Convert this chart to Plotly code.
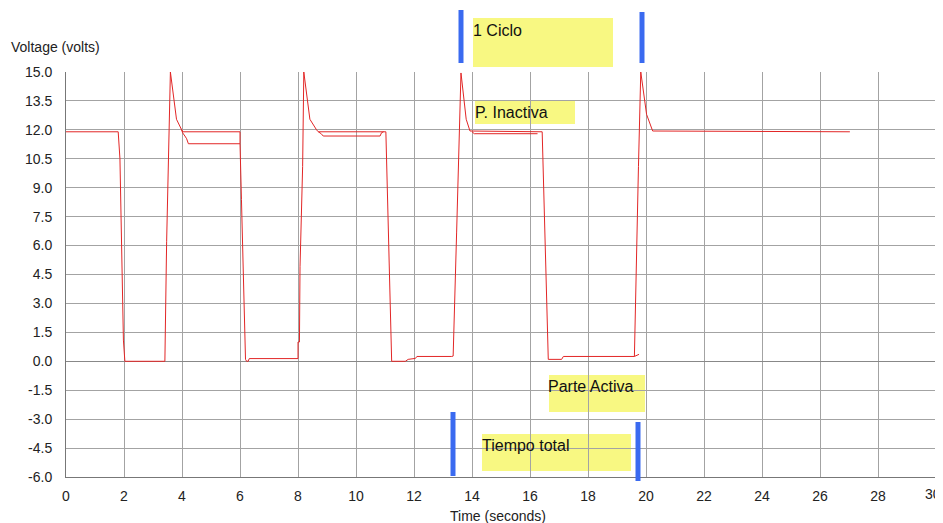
import plotly.graph_objects as go

# ---- data (time in seconds, voltage in volts) ----
time_main = [0.00, 1.80, 1.86, 1.92, 1.98, 2.03, 3.41, 3.47, 3.56, 3.60, 3.81, 3.98, 4.02,
             6.00, 6.00, 6.05, 6.11, 6.19, 6.23, 6.28, 6.32, 8.00, 8.00, 8.05, 8.07, 8.16,
             8.20, 8.41, 8.64, 8.70, 11.03, 11.11, 11.23, 11.70, 11.80, 12.05, 12.10, 13.30,
             13.35, 13.47, 13.58, 13.62, 13.80, 13.93, 16.42, 16.52, 16.63, 17.09, 17.15,
             19.60, 19.66, 19.74, 19.82, 20.02, 20.23, 27.03]
volt_main = [11.90, 11.90, 10.50, 5.80, 1.10, 0.00, 0.00, 6.20, 12.30, 15.00, 12.55, 12.05, 11.90,
             11.90, 11.30, 8.40, 4.10, 0.10, 0.00, 0.00, 0.14, 0.14, 1.00, 1.00, 4.90, 10.10,
             15.00, 12.55, 12.00, 11.90, 11.90, 6.70, 0.00, 0.00, 0.10, 0.15, 0.25, 0.25,
             0.27, 6.70, 12.50, 14.95, 12.55, 11.94, 11.90, 5.80, 0.10, 0.10, 0.25,
             0.25, 4.90, 10.10, 15.00, 12.80, 11.94, 11.90]

# secondary (overlaid) branches, segments separated by None
time_branch = [3.98, 4.02, 4.10, 4.16, 4.22, 6.00, None,
               8.70, 8.80, 8.87, 10.83, 10.88, 10.95, None,
               14.00, 14.08, 16.26, None,
               19.60, 19.72, 19.76]
volt_branch = [12.05, 11.85, 11.68, 11.54, 11.28, 11.28, None,
               11.90, 11.80, 11.68, 11.68, 11.85, 11.90, None,
               11.90, 11.80, 11.80, None,
               0.25, 0.36, 0.36]

x_ticks = list(range(0, 31, 2))
y_ticks = [15.0, 13.5, 12.0, 10.5, 9.0, 7.5, 6.0, 4.5, 3.0, 1.5, 0.0, -1.5, -3.0, -4.5, -6.0]

note_labels = ["1 Ciclo", "P. Inactiva", "Parte Activa", "Tiempo total"]

LINE = "rgb(226,38,38)"
GRID = "#a3a3a3"
FONT = "Liberation Sans, Arial, sans-serif"

fig = go.Figure()
fig.add_trace(go.Scatter(x=time_main, y=volt_main, mode="lines",
                         line=dict(color=LINE, width=1), showlegend=False))
fig.add_trace(go.Scatter(x=time_branch, y=volt_branch, mode="lines", connectgaps=False,
                         line=dict(color=LINE, width=1), showlegend=False))

# page offset (body margin) compensation
OFF = 8
W, H = 943 - OFF, 523 - OFF
# target plot area in page pixels
L, R, T, B = 66, 936, 72, 477


def px(xp):
    return (xp - L) / (R - L)


def py(yp):
    return (B - yp) / (B - T)


shapes = []
# yellow note boxes (page pixels: left, top, right, bottom)
boxes = [(473, 18, 613, 67), (475, 100, 575, 124), (549, 375, 645, 412), (482, 434, 631, 471)]
for x0, y0, x1, y1 in boxes:
    shapes.append(dict(type="rect", xref="paper", yref="paper", layer="below",
                       x0=px(x0), x1=px(x1), y0=py(y1), y1=py(y0),
                       fillcolor="rgb(248,248,130)", line=dict(width=0)))

# blue marker bars
bars = [(461, 10, 63), (642, 12, 63), (453, 412, 476), (638, 422, 481)]
for bx, y0, y1 in bars:
    shapes.append(dict(type="line", xref="paper", yref="paper",
                       x0=px(bx), x1=px(bx), y0=py(y0), y1=py(y1),
                       line=dict(color="#3a6af0", width=5)))

text_pos = [(471, 30), (473, 112), (546, 386), (480, 445)]
annotations = []
for (tx, ty), lab in zip(text_pos, note_labels):
    annotations.append(dict(text=lab, xref="paper", yref="paper", x=px(tx), y=py(ty),
                            xanchor="left", yanchor="middle", showarrow=False,
                            font=dict(family=FONT, size=16, color="#111")))

annotations.append(dict(text="Voltage (volts)", xref="paper", yref="paper",
                        x=px(9), y=py(47), xanchor="left", yanchor="middle",
                        showarrow=False, font=dict(family=FONT, size=14, color="#222")))
annotations.append(dict(text="Time (seconds)", xref="paper", yref="paper",
                        x=px(498), y=py(516), xanchor="center", yanchor="middle",
                        showarrow=False, font=dict(family=FONT, size=14, color="#222")))
# last x tick label sits at the right edge (cut off in the original)
annotations.append(dict(text=str(x_ticks[-1]), xref="paper", yref="paper",
                        x=px(942), y=py(494), xanchor="right", yanchor="middle",
                        showarrow=False, borderpad=0,
                        font=dict(family=FONT, size=14, color="#222")))

x_ticktext = [str(v) for v in x_ticks[:-1]] + [""]

fig.update_layout(
    width=W, height=H,
    margin=dict(l=L - OFF, r=W - (R - OFF), t=T - OFF, b=H - (B - OFF), pad=0),
    paper_bgcolor="white", plot_bgcolor="white",
    shapes=shapes, annotations=annotations,
    font=dict(family=FONT, size=14, color="#222"),
)
fig.update_xaxes(range=[0, 30], tickvals=x_ticks, ticktext=x_ticktext,
                 showgrid=True, gridcolor=GRID, gridwidth=1, zeroline=False,
                 showline=True, linecolor="#777", linewidth=1, mirror=False,
                 ticks="outside", ticklen=6, tickcolor="rgba(0,0,0,0)",
                 tickfont=dict(family=FONT, size=14, color="#222"))
fig.update_yaxes(range=[-6, 15], tickvals=y_ticks, ticktext=[f"{v:.1f}" for v in y_ticks],
                 showgrid=True, gridcolor=GRID, gridwidth=1, zeroline=True,
                 zerolinecolor="#888", zerolinewidth=1,
                 showline=True, linecolor="#777", linewidth=1, mirror=False,
                 ticks="outside", ticklen=10, tickcolor="rgba(0,0,0,0)",
                 tickfont=dict(family=FONT, size=14, color="#222"))

fig.write_html("out.html")
